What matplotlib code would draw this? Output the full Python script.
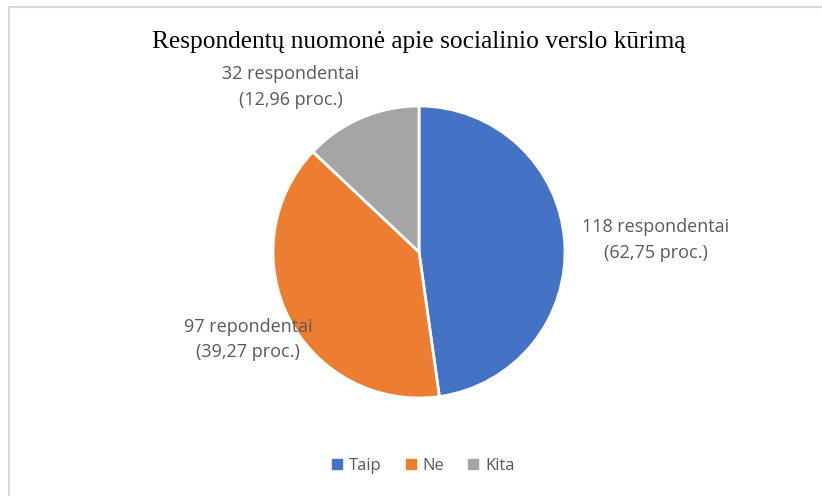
import matplotlib.pyplot as plt
from matplotlib.lines import Line2D

categories = ['Taip', 'Ne', 'Kita']
counts = [118, 97, 32]
label_texts = ['118 respondentai\n(62,75 proc.)',
               '97 repondentai\n(39,27 proc.)',
               '32 respondentai\n(12,96 proc.)']
colors = ['#4472C4', '#ED7D31', '#A5A5A5']
title = 'Respondentų nuomonė apie socialinio verslo kūrimą'

W, H = 822, 496
cx, cy, r = 419, 252, 146   # pie centre / radius in pixels

fig = plt.figure(figsize=(W/100, H/100), dpi=100)
ax = fig.add_axes([0, 0, 1, 1])

wedges, _ = ax.pie(counts, colors=colors, startangle=90, counterclock=False,
                   wedgeprops=dict(edgecolor='white', linewidth=2))
ax.set_xlim(-cx/r, (W-cx)/r)
ax.set_ylim(-(H-cy)/r, cy/r)
ax.set_aspect('equal', adjustable='box')
ax.axis('off')

# label offsets in pie-radius units
label_pos = [(1.62, 0.08), (-1.17, -0.60), (-0.88, 1.13)]
for txt, (x, y) in zip(label_texts, label_pos):
    ax.text(x, y, txt, ha='center', va='center', fontsize=13,
            color='#595959', family='Open Sans', linespacing=1.55)

fig.text(cx/W, 1-42/H, title, ha='center', va='center', fontsize=18.3,
         family='Liberation Serif', color='black')

handles = [Line2D([], [], marker='s', linestyle='', markersize=6.5,
                  markerfacecolor=c, markeredgecolor=c) for c in colors]
fig.legend(handles, categories, loc='center', bbox_to_anchor=(cx/W + 0.005, 1-466/H),
           ncol=3, frameon=False, handlelength=0.7, handletextpad=0.35,
           columnspacing=1.4, prop=dict(family='Open Sans', size=12),
           labelcolor='#595959')

# light frame like the office chart border
fig.add_artist(Line2D([8.5/W, 8.5/W], [0, 1-6.5/H], transform=fig.transFigure,
                      color='#D9D9D9', lw=1.5))
fig.add_artist(Line2D([8.5/W, 1], [1-6.5/H, 1-6.5/H], transform=fig.transFigure,
                      color='#D9D9D9', lw=1.5))

fig.savefig('out.png', dpi=100, facecolor='white')
